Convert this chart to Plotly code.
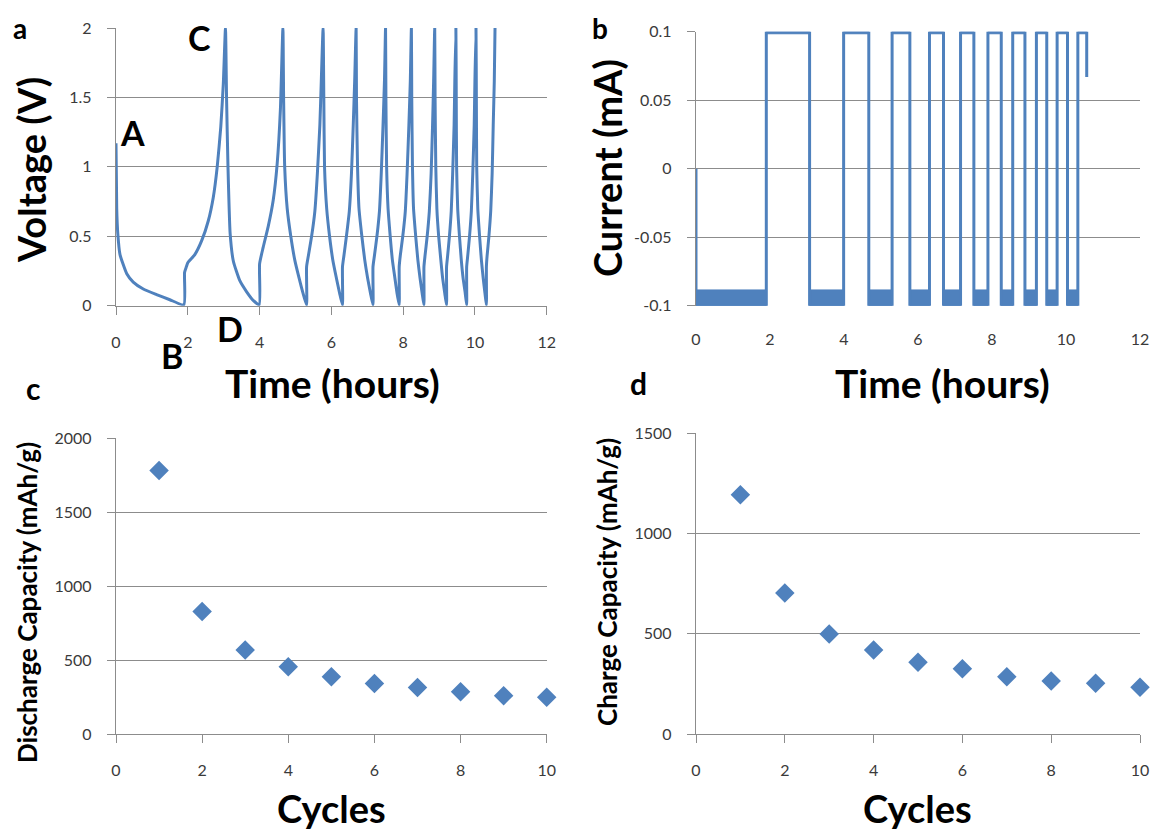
import plotly.graph_objects as go

W, H = 1152, 825          # page body has an 8 px margin in the browser
OFF = 8
BLUE = "#4F81BD"
GRID = "#8c8c8c"
FONT = "Lato"

# ---------------- panel a: voltage vs time ----------------
voltage_time = [
    0.00, 0.02, 0.05, 0.11, 0.30, 0.48, 0.76, 1.13, 1.50, 1.89,
    1.91, 1.96, 2.00, 2.20, 2.39, 2.57, 2.71, 2.82, 2.92, 2.99, 3.05,
    3.08, 3.12, 3.18, 3.27, 3.45, 3.64, 3.83, 3.99,
    4.00, 4.10, 4.24, 4.38, 4.49, 4.58, 4.65,
    4.67, 4.70, 4.77, 4.87, 4.98, 5.10, 5.21, 5.31,
    5.31, 5.36, 5.45, 5.54, 5.61, 5.68, 5.72, 5.77,
    5.79, 5.81, 5.87, 5.95, 6.04, 6.14, 6.23, 6.31,
    6.31, 6.35, 6.42, 6.50, 6.56, 6.61, 6.65, 6.69,
    6.70, 6.73, 6.77, 6.85, 6.93, 7.01, 7.09, 7.16,
    7.16, 7.20, 7.27, 7.34, 7.39, 7.44, 7.48, 7.51,
    7.52, 7.54, 7.58, 7.64, 7.70, 7.77, 7.83, 7.89,
    7.89, 7.92, 7.99, 8.06, 8.11, 8.16, 8.20, 8.23,
    8.24, 8.26, 8.29, 8.35, 8.41, 8.47, 8.53, 8.58,
    8.58, 8.61, 8.67, 8.73, 8.78, 8.82, 8.85, 8.88,
    8.89, 8.91, 8.94, 8.99, 9.05, 9.10, 9.16, 9.21,
    9.21, 9.24, 9.29, 9.34, 9.38, 9.42, 9.44, 9.47,
    9.48, 9.49, 9.52, 9.57, 9.62, 9.67, 9.73, 9.77,
    9.77, 9.80, 9.85, 9.90, 9.94, 9.98, 10.00, 10.03,
    10.04, 10.05, 10.08, 10.13, 10.18, 10.23, 10.28, 10.32,
    10.32, 10.34, 10.39, 10.44, 10.48, 10.51, 10.54, 10.56,
]
voltage_values = [
    1.17, 0.70, 0.52, 0.37, 0.23, 0.17, 0.12, 0.08, 0.043, 0.007,
    0.24, 0.28, 0.31, 0.37, 0.47, 0.61, 0.78, 1.00, 1.29, 1.60, 2.00,
    1.50, 1.00, 0.52, 0.32, 0.18, 0.10, 0.036, 0.007,
    0.30, 0.42, 0.57, 0.76, 1.02, 1.41, 2.00,
    1.50, 1.00, 0.70, 0.50, 0.33, 0.20, 0.09, 0.005,
    0.28, 0.36, 0.50, 0.68, 0.95, 1.30, 1.62, 2.00,
    1.50, 1.00, 0.70, 0.50, 0.33, 0.20, 0.09, 0.005,
    0.28, 0.36, 0.50, 0.68, 0.95, 1.30, 1.62, 2.00,
    1.50, 1.00, 0.70, 0.50, 0.33, 0.20, 0.09, 0.005,
    0.28, 0.36, 0.50, 0.68, 0.95, 1.30, 1.62, 2.00,
    1.50, 1.00, 0.70, 0.50, 0.33, 0.20, 0.09, 0.005,
    0.28, 0.36, 0.50, 0.68, 0.95, 1.30, 1.62, 2.00,
    1.50, 1.00, 0.70, 0.50, 0.33, 0.20, 0.09, 0.005,
    0.28, 0.36, 0.50, 0.68, 0.95, 1.30, 1.62, 2.00,
    1.50, 1.00, 0.70, 0.50, 0.33, 0.20, 0.09, 0.005,
    0.28, 0.36, 0.50, 0.68, 0.95, 1.30, 1.62, 2.00,
    1.50, 1.00, 0.70, 0.50, 0.33, 0.20, 0.09, 0.005,
    0.28, 0.36, 0.50, 0.68, 0.95, 1.30, 1.62, 2.00,
    1.50, 1.00, 0.70, 0.50, 0.33, 0.20, 0.09, 0.005,
    0.28, 0.36, 0.50, 0.68, 0.95, 1.30, 1.62, 2.00,
]
point_labels = ["A", "B", "C", "D"]

# ---------------- panel b: current vs time ----------------
discharge_start = [0.00, 3.07, 4.67, 5.78, 6.69, 7.51, 8.25, 8.89, 9.48, 10.04]
discharge_end = [1.90, 3.99, 5.30, 6.31, 7.15, 7.89, 8.56, 9.20, 9.76, 10.32]
charge_start = [1.90, 3.99, 5.30, 6.31, 7.15, 7.89, 8.56, 9.20, 9.76, 10.32]
charge_end = [3.07, 4.67, 5.78, 6.69, 7.51, 8.25, 8.89, 9.48, 10.04, 10.56]
rest_current = 0.0
charge_current = 0.1
discharge_current = -0.1
discharge_noise_top = -0.0885
charge_noise_bottom = 0.0985
final_current = 0.067
current_ticks = [-0.1, -0.05, 0, 0.05, 0.1]
current_tick_labels = ["-0.1", "-0.05", "0", "0.05", "0.1"]

# ---------------- panels c, d: capacity vs cycle ----------------
cycles = [1, 2, 3, 4, 5, 6, 7, 8, 9, 10]
discharge_capacity = [1780, 827, 568, 455, 387, 342, 315, 286, 259, 248]
charge_capacity = [1194, 703, 499, 419, 358, 326, 286, 264, 253, 233]

# ---------------- build traces ----------------
cur_x = [discharge_start[0]]
cur_y = [rest_current]
for i in range(len(discharge_start)):
    cur_x += [discharge_start[i], discharge_end[i], charge_start[i], charge_end[i]]
    cur_y += [discharge_current, discharge_current, charge_current, charge_current]
cur_x.append(charge_end[-1])
cur_y.append(final_current)

band_x, band_y = [], []
for s, e in zip(discharge_start, discharge_end):
    band_x += [s, s, e, e, s, None]
    band_y += [discharge_current, discharge_noise_top, discharge_noise_top,
               discharge_current, discharge_current, None]
for s, e in zip(charge_start, charge_end):
    band_x += [s, s, e, e, s, None]
    band_y += [charge_current, charge_noise_bottom, charge_noise_bottom,
               charge_current, charge_current, None]

fig = go.Figure()
fig.add_trace(go.Scatter(x=voltage_time, y=voltage_values, mode="lines",
                         line=dict(color=BLUE, width=3, shape="spline", smoothing=0.5),
                         xaxis="x", yaxis="y", showlegend=False, hoverinfo="skip"))
fig.add_trace(go.Scatter(x=band_x, y=band_y, mode="lines", fill="toself",
                         fillcolor=BLUE, line=dict(color=BLUE, width=1),
                         xaxis="x2", yaxis="y2", showlegend=False, hoverinfo="skip"))
fig.add_trace(go.Scatter(x=cur_x, y=cur_y, mode="lines",
                         line=dict(color=BLUE, width=3), xaxis="x2", yaxis="y2",
                         showlegend=False, hoverinfo="skip"))
fig.add_trace(go.Scatter(x=cycles, y=discharge_capacity, mode="markers",
                         marker=dict(symbol="diamond", size=15, color=BLUE),
                         xaxis="x3", yaxis="y3", showlegend=False, cliponaxis=False))
fig.add_trace(go.Scatter(x=cycles, y=charge_capacity, mode="markers",
                         marker=dict(symbol="diamond", size=15, color=BLUE),
                         xaxis="x4", yaxis="y4", showlegend=False, cliponaxis=False))


def fx(px):
    return (px - OFF) / W


def fy(py):
    return 1 - (py - OFF) / H


TICKFONT = dict(family=FONT, size=16, color="#3a3a3a")


def xax(d0, d1, rng, anchor, line=True):
    return dict(domain=[fx(d0), fx(d1)], range=rng, dtick=2, tick0=0, anchor=anchor,
                showgrid=False, zeroline=False, showline=line, linecolor=GRID,
                linewidth=1.3, ticks="outside" if line else "", ticklen=8,
                tickcolor=GRID, tickwidth=1.3, tickfont=TICKFONT, automargin=False,
                ticklabelstandoff=14 if line else 22, fixedrange=True)


def yax(top, bottom, rng, anchor, **kw):
    d = dict(domain=[fy(bottom), fy(top)], range=rng, anchor=anchor,
             showgrid=True, gridcolor=GRID, gridwidth=1.3, zeroline=False,
             showline=True, linecolor=GRID, linewidth=1.3, ticks="outside",
             ticklen=8, tickcolor=GRID, tickwidth=1.3, tickfont=TICKFONT,
             automargin=False, ticklabelstandoff=12, fixedrange=True)
    d.update(kw)
    return d


fig.update_layout(
    template="none",
    width=W, height=H, margin=dict(l=0, r=0, t=0, b=0, pad=0), autosize=False,
    paper_bgcolor="white", plot_bgcolor="white",
    xaxis=xax(116, 546.7, [0, 12], "y"),
    yaxis=yax(28, 305.7, [0, 2], "x", dtick=0.5),
    xaxis2=xax(696, 1140, [0, 12], "y2", line=False),
    yaxis2=yax(31.7, 305.7, [-0.1, 0.1], "x2", tickvals=current_ticks,
               ticktext=current_tick_labels),
    xaxis3=xax(116, 546.7, [0, 10], "y3"),
    yaxis3=yax(438, 734, [0, 2000], "x3", dtick=500),
    xaxis4=xax(696, 1140, [0, 10], "y4"),
    yaxis4=yax(433.3, 734, [0, 1500], "x4", dtick=500),
)


def ann(text, x, y, size, angle=0):
    fig.add_annotation(text="<b>%s</b>" % text, x=fx(x), y=fy(y), xref="paper",
                       yref="paper", showarrow=False, textangle=angle,
                       xanchor="center", yanchor="middle",
                       font=dict(family=FONT, size=size, color="black"))


# axis titles
ann("Time (hours)", 332, 383, 39)
ann("Time (hours)", 942, 383, 39)
ann("Cycles", 331, 808, 38)
ann("Cycles", 917, 808, 38)
ann("Voltage (V)", 31, 170, 38, -90)
ann("Current (mA)", 607, 168, 38, -90)
ann("Discharge Capacity (mAh/g)", 27, 603, 26, -90)
ann("Charge Capacity (mAh/g)", 607, 582, 26, -90)

# panel letters
ann("a", 20, 28, 28)
ann("b", 600, 28, 28)
ann("c", 33, 388, 30)
ann("d", 638, 383, 30)

# point labels on panel a
for lab, (x, y) in zip(point_labels, [(132, 133), (172, 355), (199, 37), (230, 328)]):
    ann(lab, x, y, 34)

fig.write_html("out.html")
